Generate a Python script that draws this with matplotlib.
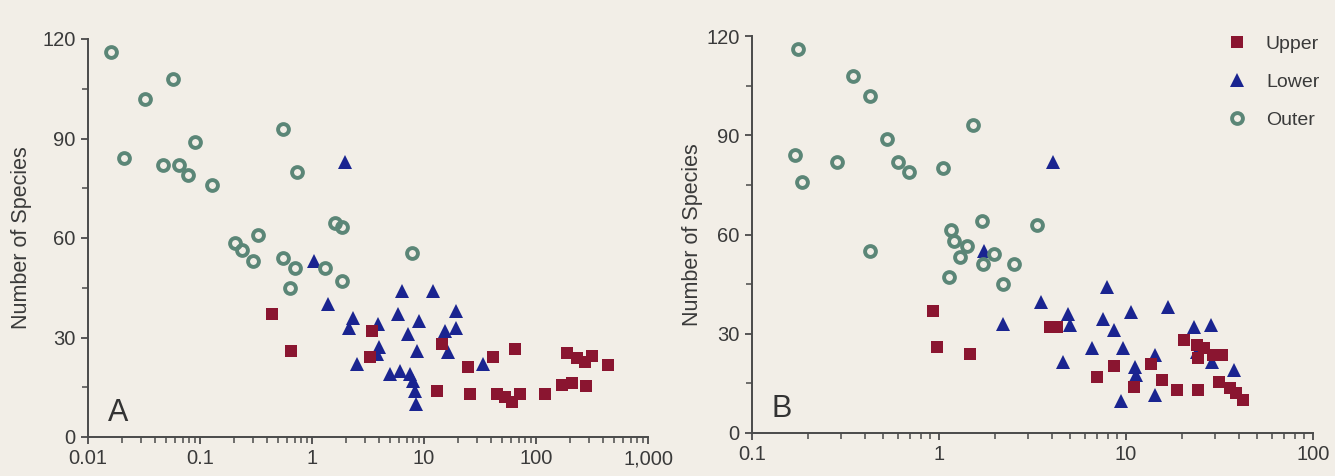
import matplotlib
matplotlib.use("Agg")
import matplotlib.pyplot as plt
from matplotlib.ticker import LogLocator, FixedLocator, FixedFormatter, NullFormatter

plt.rcParams['font.family'] = ['Liberation Sans', 'DejaVu Sans']

# ---------------- data: panel A ----------------
a_upper_x = [0.44, 0.65, 3.4, 3.3, 14.5, 13.1, 24.8, 25.7, 41, 65, 45, 53, 61, 72, 120,
             170, 210, 280, 190, 233, 276, 316, 437]
a_upper_y = [37, 26, 32, 24, 28, 14, 21, 13, 24, 26.5, 13, 12, 10.5, 13, 13,
             15.7, 16.3, 15.4, 25.3, 23.8, 22.6, 24.4, 21.7]

a_lower_x = [1.97, 1.04, 1.39, 2.32, 2.14, 3.9, 3.8, 4.0, 2.52, 6.35, 12.0, 5.9, 9.0, 19.3,
             7.2, 8.66, 15.4, 19.3, 16.3, 5.0, 6.1, 7.5, 8.0, 8.3, 8.4, 33.6]
a_lower_y = [83, 53, 40, 36, 33, 34, 25, 27, 22, 44, 44, 37, 35, 38,
             31, 26, 32, 33, 25.6, 19, 20, 19, 17, 14, 10, 22]

a_outer_x = [0.016, 0.021, 0.032, 0.057, 0.047, 0.065, 0.078, 0.090, 0.128, 0.55, 0.73,
             1.6, 1.85, 0.205, 0.237, 0.297, 0.33, 0.55, 0.705, 0.64, 1.31, 1.85, 7.8]
a_outer_y = [116, 84, 102, 108, 82, 82, 79, 89, 76, 93, 80,
             64.5, 63.3, 58.5, 56.4, 53, 61, 54, 51, 45, 51, 47, 55.5]

# ---------------- data: panel B ----------------
b_upper_x = [0.93, 0.98, 1.47, 3.9, 4.3, 7.0, 8.6, 11, 13.6, 15.6, 18.7, 24.3, 20.5, 24,
             26.1, 24.3, 29.2, 32.6, 31.4, 36, 38.7, 42.3]
b_upper_y = [37, 26, 24, 32, 32, 17, 20.3, 14, 21, 16, 13, 13, 28, 26.7,
             25.8, 22.7, 23.6, 23.6, 15.5, 13.6, 12, 10]

b_lower_x = [4.07, 1.75, 2.2, 3.5, 4.9, 5.0, 4.6, 7.9, 7.5, 8.6, 6.6, 9.6, 10.6, 11.2,
             11.3, 9.4, 14.3, 14.3, 16.8, 23, 28.5, 24, 28.8, 38]
b_lower_y = [82, 55, 33, 39.5, 36, 32.7, 21.6, 44, 34.6, 31, 25.8, 25.8, 36.7, 20,
             17.5, 9.6, 23.6, 11.5, 38, 32, 32.5, 24.5, 21.5, 19]

b_outer_x = [0.176, 0.17, 0.185, 0.285, 0.347, 0.428, 0.53, 0.6, 0.69, 1.05, 1.52, 1.7,
             0.43, 3.34, 1.16, 1.2, 1.41, 1.29, 1.13, 1.97, 1.72, 2.52, 2.2]
b_outer_y = [116, 84, 76, 82, 108, 102, 89, 82, 79, 80, 93, 64,
             55, 63, 61.5, 58, 56.4, 53.3, 47.3, 54.2, 51.2, 51.2, 45.1]

series_names = ["Upper", "Lower", "Outer"]
y_ticks = [0, 30, 60, 90, 120]
a_xticks = [0.01, 0.1, 1, 10, 100, 1000]
a_xlabels = ["0.01", "0.1", "1", "10", "100", "1,000"]
b_xticks = [0.1, 1, 10, 100]
b_xlabels = ["0.1", "1", "10", "100"]

# ---------------- style ----------------
BG = "#f2eee7"
RED = "#8a1530"
BLUE = "#1a2490"
GREEN = "#5b8677"
AXC = "#4a4a4a"
TXT = "#3a3a3a"

W, H = 1335, 476
fig = plt.figure(figsize=(W / 100, H / 100), dpi=100, facecolor=BG)

axA = fig.add_axes([88 / W, 1 - 437 / H, 560 / W, 398 / H])
axB = fig.add_axes([752 / W, 1 - 433 / H, 561 / W, 397 / H])


def draw(ax, ux, uy, lx, ly, ox, oy, xlim, xticks, xlabels, letter):
    ax.set_facecolor(BG)
    ax.plot(lx, ly, linestyle='none', marker='^', markersize=10.5, color=BLUE,
            markeredgewidth=0, label=series_names[1], zorder=3)
    ax.plot(ox, oy, linestyle='none', marker='o', markersize=7.8, markerfacecolor='none',
            markeredgecolor=GREEN, markeredgewidth=2.8, label=series_names[2], zorder=4)
    ax.plot(ux, uy, linestyle='none', marker='s', markersize=9, color=RED,
            markeredgewidth=0, label=series_names[0], zorder=5)
    ax.set_xscale('log')
    ax.set_xlim(*xlim)
    ax.set_ylim(0, 120)
    ax.xaxis.set_major_locator(FixedLocator(xticks))
    ax.xaxis.set_major_formatter(FixedFormatter(xlabels))
    ax.xaxis.set_minor_locator(LogLocator(base=10, subs=range(2, 10), numticks=20))
    ax.xaxis.set_minor_formatter(NullFormatter())
    ax.yaxis.set_major_locator(FixedLocator(y_ticks))
    ax.yaxis.set_minor_locator(FixedLocator([15, 45, 75, 105]))
    for s in ['top', 'right']:
        ax.spines[s].set_visible(False)
    for s in ['left', 'bottom']:
        ax.spines[s].set_color(AXC)
        ax.spines[s].set_linewidth(1.4)
    ax.tick_params(which='major', direction='out', length=5, width=1.3, color=AXC,
                   labelsize=14.5, labelcolor=TXT, pad=4)
    ax.tick_params(which='minor', direction='out', length=4, width=1.1, color=AXC)
    ax.set_ylabel("Number of Species", fontsize=15.5, color=TXT)
    ax.text(0.035, 0.04, letter, transform=ax.transAxes, fontsize=22, color="#333333",
            ha='left', va='baseline')


draw(axA, a_upper_x, a_upper_y, a_lower_x, a_lower_y, a_outer_x, a_outer_y,
     (0.01, 1000), a_xticks, a_xlabels, "A")
draw(axB, b_upper_x, b_upper_y, b_lower_x, b_lower_y, b_outer_x, b_outer_y,
     (0.1, 100), b_xticks, b_xlabels, "B")

axA.yaxis.set_label_coords((32 - 88) / 560, 0.5)
axB.yaxis.set_label_coords((703 - 752) / 561, 0.5)

handles, labels = axB.get_legend_handles_labels()
order = [labels.index(n) for n in series_names]
leg = axB.legend([handles[i] for i in order], [labels[i] for i in order],
                 loc='upper left', bbox_to_anchor=(1227 / W, 1 - 35 / H),
                 bbox_transform=fig.transFigure, frameon=False, fontsize=14,
                 handlelength=1.0, handletextpad=1.0, labelspacing=1.05,
                 borderpad=0, borderaxespad=0)
for t in leg.get_texts():
    t.set_color(TXT)

fig.savefig("out.png", dpi=100, facecolor=BG)
